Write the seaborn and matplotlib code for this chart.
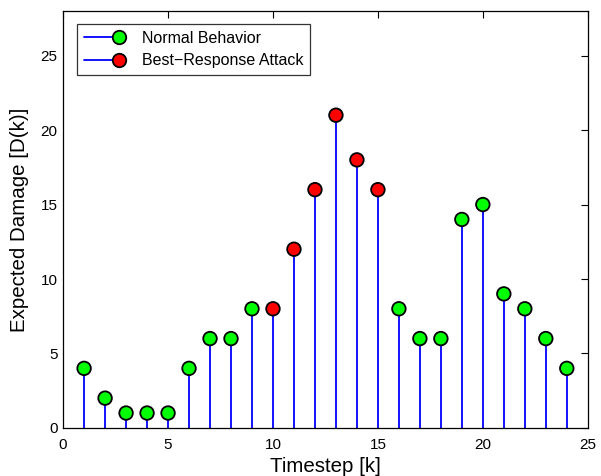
import matplotlib
matplotlib.use("Agg")
import matplotlib.pyplot as plt
from matplotlib.lines import Line2D
from matplotlib.legend_handler import HandlerLine2D
import seaborn as sns
import pandas as pd
import numpy as np

timesteps = list(range(1, 25))
damage = [4, 2, 1, 1, 1, 4, 6, 6, 8, 8, 12, 16, 21, 18, 16, 8, 6, 6, 14, 15, 9, 8, 6, 4]
behavior = ["Normal Behavior"] * 9 + ["Best\u2212Response Attack"] * 6 + ["Normal Behavior"] * 9
x_ticks = [0, 5, 10, 15, 20, 25]
y_ticks = [0, 5, 10, 15, 20, 25]

df = pd.DataFrame({"k": timesteps, "D": damage, "type": behavior})

sns.set_style("white")
plt.rcParams["font.family"] = ["Liberation Sans", "DejaVu Sans"]
for key in ["text.color", "axes.labelcolor", "xtick.color", "ytick.color"]:
    plt.rcParams[key] = "black"

fig = plt.figure(figsize=(6.01, 4.76), dpi=100)
ax = fig.add_axes([0.105, 0.101, 0.873, 0.876])

ax.vlines(df["k"], 0, df["D"], color="#0000ff", linewidth=1.3, zorder=2)
palette = {"Normal Behavior": "#00ff00", "Best\u2212Response Attack": "#ff0000"}
sns.scatterplot(data=df, x="k", y="D", hue="type", palette=palette, s=95,
                edgecolor="black", linewidth=1.3, ax=ax, zorder=3, legend=False)

ax.set_xlim(0, 25)
ax.set_ylim(0, 28)
ax.set_xticks(x_ticks)
ax.set_yticks(y_ticks)
ax.tick_params(direction="in", top=True, right=True, length=5, width=0.8, labelsize=11,
               color="black", labelcolor="black")
ax.tick_params(axis="x", pad=7)
ax.tick_params(axis="y", pad=4)
for s in ax.spines.values():
    s.set_color("black")
    s.set_linewidth(0.9)
ax.set_xlabel("Timestep [k]", fontsize=14.8, labelpad=4)
ax.set_ylabel("Expected Damage [D(k)]", fontsize=14.8, labelpad=8)


class RightMarkerHandler(HandlerLine2D):
    def create_artists(self, *args, **kwargs):
        arts = super().create_artists(*args, **kwargs)
        for a in arts:
            a.set_markevery([2])
        return arts


handles = [
    Line2D([0], [0], color="#0000ff", linewidth=1.3, marker="o", markersize=9.7,
           markerfacecolor="#00ff00", markeredgecolor="black", markeredgewidth=1.3),
    Line2D([0], [0], color="#0000ff", linewidth=1.3, marker="o", markersize=9.7,
           markerfacecolor="#ff0000", markeredgecolor="black", markeredgewidth=1.3),
]
leg = ax.legend(handles, ["Normal Behavior", "Best\u2212Response Attack"], loc="upper left",
                bbox_to_anchor=(0.0267, 0.969), borderaxespad=0, fontsize=11.5,
                frameon=True, fancybox=False, edgecolor="black",
                handlelength=2.2, handletextpad=1.4, borderpad=0.45, labelspacing=0.45,
                handler_map={Line2D: RightMarkerHandler()})
leg.get_frame().set_linewidth(0.9)

fig.savefig("out.png", dpi=100)
